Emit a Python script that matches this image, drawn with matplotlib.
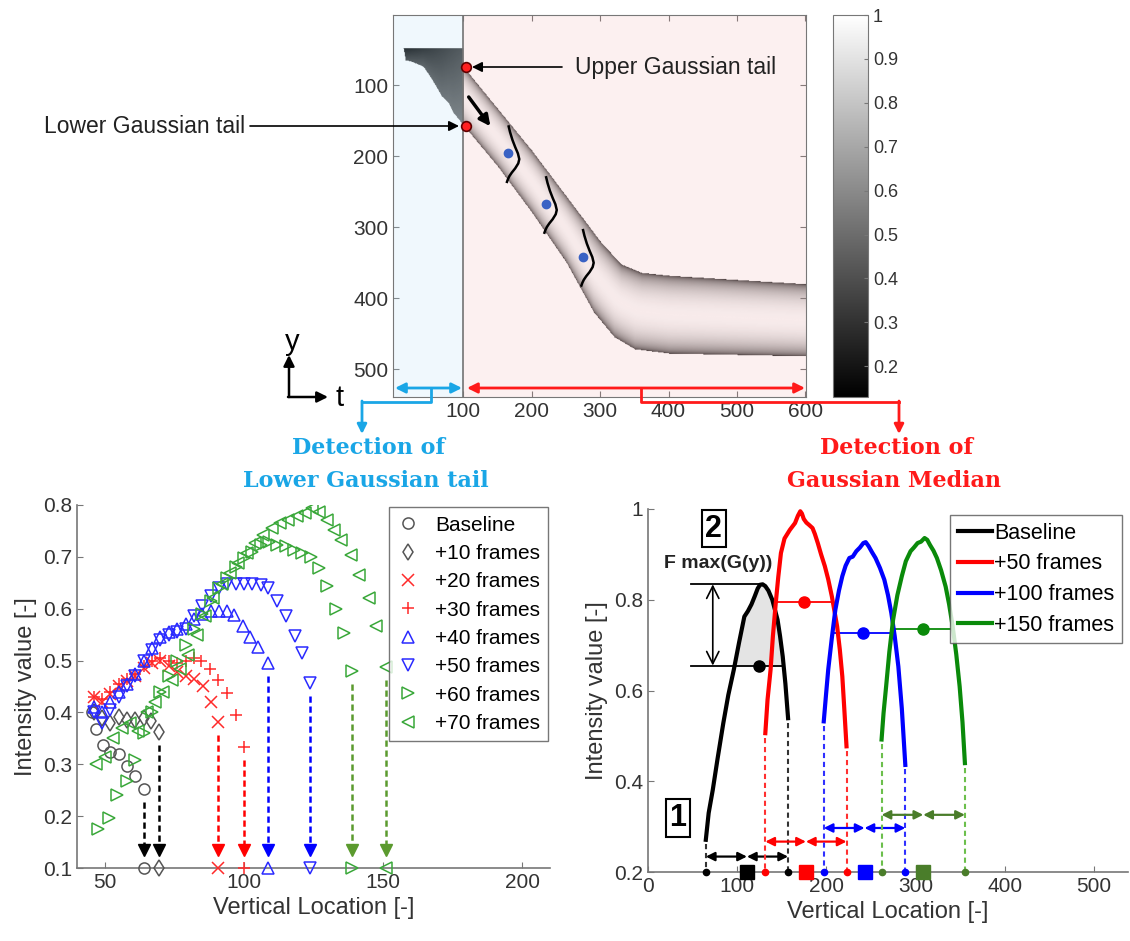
import numpy as np
import matplotlib.pyplot as plt

plt.rcParams['font.family'] = ['Liberation Sans', 'DejaVu Sans']

W, H = 1130, 941

# --- band outline of the intensity map (t, y) ---
band_up_x = [100, 150, 200, 250, 300, 330, 360, 400, 500, 601]
band_up_y = [74, 133, 192, 256, 320, 352, 364, 368, 374, 380]
band_lo_x = [100, 150, 200, 250, 290, 320, 350, 400, 500, 601]
band_lo_y = [157, 215, 280, 350, 420, 455, 472, 478, 480, 482]
blk_x = [12, 15, 24, 41, 51, 61, 68, 78, 85, 95, 100]
blk_y = [48, 65, 67, 74, 88, 104, 116, 125, 139, 151, 158]

# median points along the band and the drawn profile shape
med_t = [165.7, 220.5, 274.5]
med_y = [196, 267.6, 342]
prof_dx = [0.5, 2.5, 6, 10, 14, 16, 14.5, 10, 5, 1.5, -0.5, -2]
prof_dy = [-38, -30, -19, -9, 0, 8, 14, 21, 27, 32, 36, 40]
tail_t = [104, 104]
tail_y = [74, 157]

# --- lower Gaussian tail samples ---
s0_x = [45.5, 47, 49.5, 52, 55, 58, 61, 64]
s0_y = [0.40, 0.368, 0.337, 0.323, 0.319, 0.297, 0.278, 0.252]
s10_x = [46, 49, 52, 55, 58, 61, 64, 66.6, 69.6]
s10_y = [0.40, 0.389, 0.38, 0.392, 0.386, 0.386, 0.389, 0.383, 0.363]
s20_x = [46, 49, 52, 55, 58, 61, 64, 67, 70, 73, 76, 79, 82, 85.4, 88, 90.5]
s20_y = [0.43, 0.42, 0.435, 0.45, 0.46, 0.47, 0.485, 0.495, 0.50, 0.49,
         0.478, 0.47, 0.465, 0.45, 0.42, 0.381]
s30_x = [46, 49, 52, 55, 58, 61, 64, 67, 70, 73, 76, 79, 82, 84.7, 87.7,
         90.5, 93.8, 97.3, 99.9]
s30_y = [0.43, 0.425, 0.44, 0.455, 0.465, 0.475, 0.49, 0.50, 0.505, 0.50,
         0.495, 0.50, 0.505, 0.50, 0.483, 0.463, 0.438, 0.395, 0.334]
s40_x = [46, 49, 52, 55, 58, 61, 64, 67, 70, 73, 76, 79, 82, 85, 88, 91,
         94, 96.5, 99.5, 102, 105, 108.7]
s40_y = [0.41, 0.40, 0.42, 0.44, 0.455, 0.475, 0.50, 0.525, 0.545, 0.555,
         0.56, 0.57, 0.58, 0.59, 0.595, 0.595, 0.595, 0.588, 0.567, 0.546,
         0.527, 0.495]
s50_x = [46, 49, 52, 55, 58, 61, 64, 67, 70, 73, 76, 79, 82, 85, 88, 91,
         94, 97, 100, 103, 106, 108.7, 112, 115, 118.4, 120.7, 123.8]
s50_y = [0.40, 0.38, 0.405, 0.43, 0.45, 0.47, 0.50, 0.52, 0.54, 0.55,
         0.555, 0.56, 0.585, 0.605, 0.625, 0.64, 0.648, 0.648, 0.648, 0.648,
         0.645, 0.64, 0.614, 0.585, 0.548, 0.514, 0.456]
s60_x = [47.5, 51.5, 54.5, 58, 61, 64, 67, 70, 73, 76, 79, 82, 85, 88, 91,
         94, 97, 100, 103, 106, 109, 112, 115, 118, 121, 124, 127, 130, 133,
         136, 139]
s60_y = [0.175, 0.196, 0.241, 0.267, 0.309, 0.36, 0.40, 0.44, 0.47, 0.50,
         0.53, 0.56, 0.59, 0.615, 0.64, 0.66, 0.68, 0.697, 0.71, 0.722,
         0.728, 0.723, 0.72, 0.713, 0.707, 0.70, 0.678, 0.643, 0.60, 0.553,
         0.479]
s70_x = [47, 50, 53, 56, 59, 62, 65, 68, 71, 74, 77, 80, 83, 86, 89, 92, 95,
         98, 101, 104, 107, 110, 113, 116, 119, 122, 124.5, 127, 130, 132.5,
         135, 138.5, 141.5, 145, 147.5, 151]
s70_y = [0.30, 0.315, 0.35, 0.37, 0.38, 0.365, 0.40, 0.42, 0.44, 0.463,
         0.483, 0.51, 0.55, 0.585, 0.62, 0.648, 0.668, 0.688, 0.707, 0.726,
         0.742, 0.755, 0.765, 0.771, 0.778, 0.785, 0.794, 0.787, 0.771,
         0.752, 0.733, 0.704, 0.665, 0.62, 0.566, 0.488]

# --- Gaussian median profiles ---
g0_x = [64.8, 68, 72.6, 78, 84.4, 90, 96.2, 102, 108, 112, 116, 119.7, 123,
        125.6, 128.5, 131.5, 135, 139.3, 142, 145.2, 148, 151, 154, 157]
g0_y = [0.271, 0.33, 0.381, 0.45, 0.528, 0.59, 0.646, 0.705, 0.763, 0.775,
        0.79, 0.808, 0.825, 0.833, 0.834, 0.83, 0.82, 0.80, 0.78, 0.756,
        0.72, 0.675, 0.615, 0.539]
g50_x = [131.5, 134, 137.4, 140, 143.2, 146, 149, 153, 159, 164.8, 168,
         170.7, 172.5, 174.6, 177.5, 180.5, 184.4, 187, 190.3, 194, 198.2,
         202, 206, 209, 212, 215, 217.8, 220, 222.5]
g50_y = [0.506, 0.58, 0.646, 0.72, 0.793, 0.85, 0.903, 0.935, 0.954, 0.969,
         0.985, 0.995, 0.99, 0.978, 0.97, 0.965, 0.958, 0.945, 0.925, 0.90,
         0.874, 0.845, 0.808, 0.775, 0.741, 0.69, 0.631, 0.56, 0.477]
g100_x = [197, 199.5, 202, 206, 210, 214, 217.8, 221.5, 225.7, 229.5, 233.5,
          237.5, 241.4, 244, 247.3, 251, 255, 260, 264.9, 269, 272.7, 276.5,
          280.6, 284.5, 288.4]
g100_y = [0.532, 0.59, 0.646, 0.715, 0.778, 0.82, 0.852, 0.875, 0.892, 0.895,
          0.907, 0.915, 0.925, 0.927, 0.918, 0.905, 0.892, 0.87, 0.844, 0.81,
          0.771, 0.72, 0.653, 0.56, 0.436]
g150_x = [261.8, 264, 266.9, 270.5, 274.7, 279.5, 284.5, 289, 294.3, 298,
          302.2, 306, 310, 313, 316, 320, 323.8, 328.5, 333.6, 337.5, 341.5,
          345.5, 349.3, 352.5, 355.2]
g150_y = [0.492, 0.55, 0.609, 0.685, 0.756, 0.81, 0.852, 0.885, 0.907, 0.915,
          0.925, 0.928, 0.936, 0.932, 0.921, 0.908, 0.892, 0.865, 0.829, 0.79,
          0.741, 0.68, 0.609, 0.53, 0.44]
g_level = [0.655, 0.794, 0.727, 0.736]
g_arrow_y = [0.234, 0.267, 0.297, 0.326]


def rect(x0, y0, x1, y1):
    return [x0 / W, 1 - y1 / H, (x1 - x0) / W, (y1 - y0) / H]


fig = plt.figure(figsize=(W / 100, H / 100), dpi=100)
tick_c = '#333333'
spine_c = '#777777'

# ================= intensity map =================
ax0 = fig.add_axes(rect(393, 15, 806, 397))
xs = np.arange(0, 602)
ys = np.arange(0, 541)
X, Y = np.meshgrid(xs, ys)
img = np.full(X.shape, np.nan)
u = np.interp(xs, band_up_x, band_up_y)[None, :]
l = np.interp(xs, band_lo_x, band_lo_y)[None, :]
t = (Y - u) / (l - u)
inband = (X >= 100) & (t >= 0) & (t <= 1)
img[inband] = 0.12 + 0.86 * np.sin(np.pi * t[inband]) ** 0.3
bl = np.interp(xs, blk_x, blk_y)[None, :] * np.ones_like(Y)
inblk = (X >= blk_x[0]) & (X < 100) & (Y >= 48) & (Y <= bl)
s = (X - blk_x[0]) / (100 - blk_x[0])
r = (Y - 48) / np.maximum(bl - 48, 1)
img[inblk] = np.clip(0.14 + 0.2 * s + 0.18 * r, 0, 1)[inblk]

cmap = plt.get_cmap('gray').copy()
cmap.set_bad((1, 1, 1, 0))
im = ax0.imshow(img, cmap=cmap, vmin=0.13, vmax=1.0, aspect='auto',
                extent=(-0.5, 601.5, 540.5, -0.5), interpolation='bilinear',
                zorder=1)
ax0.axvspan(-3, 100, color=(0.72, 0.88, 0.97), alpha=0.2, zorder=2, lw=0)
ax0.axvspan(100, 601, color=(0.93, 0.55, 0.55), alpha=0.13, zorder=2, lw=0)
ax0.axvline(100, color='0.45', lw=1.2, zorder=3)
ax0.set_xlim(-3, 601)
ax0.set_ylim(539, 1)
ax0.set_xticks([100, 200, 300, 400, 500, 600])
ax0.set_yticks([100, 200, 300, 400, 500])
ax0.tick_params(direction='in', top=True, right=True, length=4,
                labelsize=15, colors=spine_c, labelcolor=tick_c)
for sp in ax0.spines.values():
    sp.set_color(spine_c)

for mt, my in zip(med_t, med_y):
    ax0.plot(np.array(prof_dx) + mt, np.array(prof_dy) + my, color='k',
             lw=1.8, zorder=5)
    ax0.plot(mt, my, 'o', color='#3a62c4', ms=6, zorder=6)
ax0.plot(tail_t, tail_y, 'o', mfc='#ff2020', mec='#600000', ms=7, mew=1.2,
         zorder=6)
ax0.annotate('', xy=(139.4, 157.7), xytext=(107.7, 116.5), zorder=6,
             arrowprops=dict(arrowstyle='-|>', color='k', lw=2.5,
                             mutation_scale=16, shrinkA=0, shrinkB=0))

cax = fig.add_axes(rect(833, 15, 868, 397))
cb = fig.colorbar(im, cax=cax, ticks=[0.2, 0.3, 0.4, 0.5, 0.6, 0.7, 0.8, 0.9, 1])
cb.ax.set_yticklabels(['0.2', '0.3', '0.4', '0.5', '0.6', '0.7', '0.8', '0.9', '1'])
cb.ax.tick_params(direction='in', length=3, labelsize=13, colors=spine_c,
                  labelcolor=tick_c)
cb.outline.set_edgecolor(spine_c)

# ================= lower tail =================
ax1 = fig.add_axes(rect(77, 505, 550, 868))
gray, red, blue, green = '#555555', '#ff2a2a', '#2a2aff', '#3aa83a'
series = [
    ('Baseline', s0_x, s0_y, 'o', gray, 'k'),
    ('+10 frames', s10_x, s10_y, 'd', gray, 'k'),
    ('+20 frames', s20_x, s20_y, 'x', red, 'red'),
    ('+30 frames', s30_x, s30_y, '+', red, 'red'),
    ('+40 frames', s40_x, s40_y, '^', blue, 'blue'),
    ('+50 frames', s50_x, s50_y, 'v', blue, 'blue'),
    ('+60 frames', s60_x, s60_y, '>', green, '#5b9a2e'),
    ('+70 frames', s70_x, s70_y, '<', green, '#5b9a2e'),
]
for lab, xv, yv, m, c, ac in series:
    ax1.plot(xv, yv, ls='none', marker=m, mfc='none', mec=c, ms=8, mew=1.1,
             label=lab)
    xe, ye = xv[-1], yv[-1]
    ax1.plot([xe, xe], [ye - 0.025, 0.142], ls='--', color=ac, lw=1.8,
             dashes=(2.5, 1.5))
    ax1.plot(xe, 0.134, marker='v', color=ac, ms=8, ls='none')
    ax1.plot(xe, 0.1, marker=m, mfc='none', mec=c, ms=8, mew=1.1,
             clip_on=False, zorder=5)
ax1.set_xlim(40, 210)
ax1.set_ylim(0.1, 0.8)
ax1.set_xticks([50, 100, 150, 200])
ax1.set_yticks([0.1, 0.2, 0.3, 0.4, 0.5, 0.6, 0.7, 0.8])
ax1.legend(loc='upper right', bbox_to_anchor=(0.996, 0.994), borderaxespad=0,
           fontsize=15, frameon=True, fancybox=False, edgecolor='#555555',
           labelspacing=0.45, handlelength=1.0, handletextpad=0.8,
           borderpad=0.4)

# ================= Gaussian median =================
ax2 = fig.add_axes(rect(648, 509, 1128, 872))
profiles = [
    ('Baseline', g0_x, g0_y, 'k', 'k', '#333333'),
    ('+50 frames', g50_x, g50_y, '#ff0000', '#ff0000', '#ff3030'),
    ('+100 frames', g100_x, g100_y, '#0000ff', '#0000ff', '#3030ff'),
    ('+150 frames', g150_x, g150_y, '#0a8a0a', '#4a7d2a', '#6cbf4c'),
]
for i, (lab, xv, yv, c, ac, dc) in enumerate(profiles):
    xv = np.array(xv)
    yv = np.array(yv)
    ax2.plot(xv, yv, color=c, lw=3, label=lab, zorder=4)
    k = int(np.argmax(yv))
    lev = g_level[i]
    xl = np.interp(lev, yv[:k + 1], xv[:k + 1])
    xr = np.interp(lev, yv[k:][::-1], xv[k:][::-1])
    xm = 0.5 * (xl + xr)
    if i == 0:
        ax2.fill_between(xv, lev, yv, where=yv >= lev, interpolate=True,
                         color='#e4e4e4', zorder=2)
        ax2.plot([48, xr], [lev, lev], color='k', lw=1.3, zorder=3)
        ax2.plot([48, xv[k]], [yv[k], yv[k]], color='k', lw=1.3, zorder=3)
        ax2.annotate('', xy=(72.6, lev), xytext=(72.6, yv[k]),
                     arrowprops=dict(arrowstyle='<->', color='k', lw=1.2,
                                     mutation_scale=22, shrinkA=0, shrinkB=0))
    else:
        ax2.plot([xl, xr], [lev, lev], color=c, lw=1.3, zorder=3)
    ax2.plot(xm, lev, 'o', color=c, ms=8, zorder=5)
    # extent of the profile on the axis
    for xe, ye in ((xv[0], yv[0]), (xv[-1], yv[-1])):
        ax2.plot([xe, xe], [ye - 0.01, 0.2], ls='--', color=dc, lw=1.5,
                 dashes=(2.5, 1.8), zorder=3)
        ax2.plot(xe, 0.2, 'o', color=ac, ms=4.5, clip_on=False, zorder=6)
    xc = 0.5 * (xv[0] + xv[-1])
    ax2.plot(xc, 0.2, 's', color=ac, ms=10, clip_on=False, zorder=6)
    ya = g_arrow_y[i]
    for a, b in ((xv[0], xc), (xc, xv[-1])):
        ax2.annotate('', xy=(b, ya), xytext=(a, ya),
                     arrowprops=dict(arrowstyle='<|-|>', color=ac, lw=1.6,
                                     mutation_scale=13, shrinkA=0, shrinkB=0))

ax2.set_xlim(0, 538)
ax2.set_ylim(0.2, 1.0)
ax2.set_xticks([0, 100, 200, 300, 400, 500])
ax2.set_yticks([0.2, 0.4, 0.6, 0.8, 1.0])
ax2.set_yticklabels(['0.2', '0.4', '0.6', '0.8', '1'])
ax2.text(78.5, 0.88, 'F max(G(y))', fontsize=14, fontweight='bold',
         ha='center', va='center', color='#222222')
ax2.text(73.8, 0.957, '2', fontsize=22, fontweight='bold', ha='center',
         va='center', bbox=dict(boxstyle='square,pad=0.12', fc='white',
                                ec='k', lw=1.5))
ax2.text(33.4, 0.319, '1', fontsize=22, fontweight='bold', ha='center',
         va='center', bbox=dict(boxstyle='square,pad=0.12', fc='white',
                                ec='k', lw=1.5))
ax2.legend(loc='upper right', bbox_to_anchor=(0.9875, 0.983), borderaxespad=0,
           fontsize=15.5, frameon=True, fancybox=False, edgecolor='#555555',
           labelspacing=0.45, handlelength=1.6, handletextpad=0.1,
           borderpad=0.35)

for ax in (ax1, ax2):
    for side in ('top', 'right'):
        ax.spines[side].set_visible(False)
    for side in ('left', 'bottom'):
        ax.spines[side].set_color(spine_c)
        ax.spines[side].set_linewidth(1.2)
    ax.tick_params(direction='in', length=4, labelsize=15, colors=spine_c,
                   labelcolor=tick_c)
    ax.set_xlabel('Vertical Location [-]', fontsize=17, color=tick_c,
                  labelpad=4)
    ax.set_ylabel('Intensity value [-]', fontsize=17, color=tick_c,
                  labelpad=4)

# ================= figure-level callouts =================
ov = fig.add_axes([0, 0, 1, 1], zorder=10)
ov.set_xlim(0, W)
ov.set_ylim(H, 0)
ov.axis('off')
ov.patch.set_alpha(0)

arrow = dict(arrowstyle='-|>', color='k', lw=1.2, mutation_scale=15,
             shrinkA=0, shrinkB=0)
ov.annotate('', xy=(472, 67), xytext=(562, 67), arrowprops=arrow)
ov.text(575, 67, 'Upper Gaussian tail', fontsize=16.5, ha='left',
        va='center', color='#222222')
ov.annotate('', xy=(459, 126), xytext=(250, 126), arrowprops=arrow)
ov.text(245, 126, 'Lower Gaussian tail', fontsize=16.5, ha='right',
        va='center', color='#222222')

ax_arrow = dict(arrowstyle='-|>', color='k', lw=1.8, mutation_scale=16,
                shrinkA=0, shrinkB=0)
ov.annotate('', xy=(289, 355), xytext=(289, 397), arrowprops=ax_arrow)
ov.annotate('', xy=(328, 397), xytext=(288, 397), arrowprops=ax_arrow)
ov.text(292, 342, 'y', fontsize=21, ha='center', va='center')
ov.text(340, 398, 't', fontsize=21, ha='center', va='center')

cblue, cred = '#1aa6e6', '#ff1a1a'
for c, (xa, xb), xm, xd in ((cblue, (395, 462), 431, 362),
                            (cred, (467, 805), 641, 899)):
    ov.annotate('', xy=(xb, 388), xytext=(xa, 388),
                arrowprops=dict(arrowstyle='<|-|>', color=c, lw=2,
                                mutation_scale=15, shrinkA=0, shrinkB=0))
    ov.plot([xm, xm, xd], [388, 402, 402], color=c, lw=2)
    ov.annotate('', xy=(xd, 434), xytext=(xd, 401),
                arrowprops=dict(arrowstyle='-|>', color=c, lw=2,
                                mutation_scale=14, shrinkA=0, shrinkB=0))

title_kw = dict(fontsize=16, fontweight='bold', family='DejaVu Serif',
                ha='center', va='center')
ov.text(368, 448, 'Detection of', color=cblue, **title_kw)
ov.text(366, 481, 'Lower Gaussian tail', color=cblue, **title_kw)
ov.text(896, 448, 'Detection of', color=cred, **title_kw)
ov.text(894, 481, 'Gaussian Median', color=cred, **title_kw)

fig.savefig('out.png', dpi=100)
